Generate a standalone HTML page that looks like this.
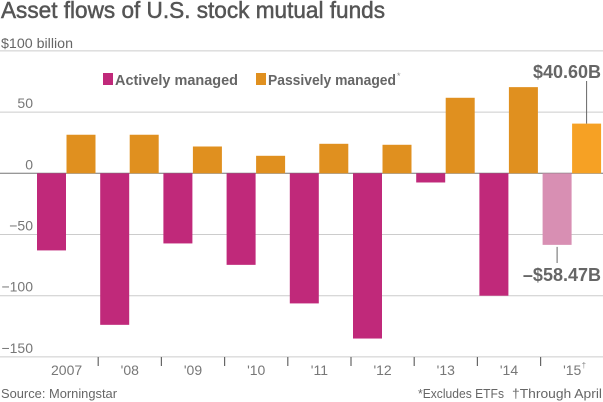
<!DOCTYPE html>
<html><head><meta charset="utf-8"><style>
html,body{margin:0;padding:0;background:#fff;}
svg{display:block;font-family:"Liberation Sans",sans-serif;}
</style></head><body>
<svg width="603" height="402" viewBox="0 0 603 402" xmlns="http://www.w3.org/2000/svg">
<text x="1" y="18" font-size="23" fill="#555" stroke="#555" stroke-width="0.5" textLength="384" lengthAdjust="spacingAndGlyphs">Asset flows of U.S. stock mutual funds</text>
<text x="1" y="48" font-size="14" fill="#666" textLength="72" lengthAdjust="spacingAndGlyphs">$100 billion</text>
<g id="grid"></g>
<g id="bars"></g>
<g>
<rect x="103" y="73" width="10" height="12" fill="#c0297a"/>
<text x="115" y="85" font-size="15" font-weight="bold" fill="#666" textLength="123" lengthAdjust="spacingAndGlyphs">Actively managed</text>
<rect x="256" y="73" width="10" height="12" fill="#e0901f"/>
<text x="268" y="85" font-size="15" font-weight="bold" fill="#666" textLength="128" lengthAdjust="spacingAndGlyphs">Passively managed</text>
<text x="397" y="79" font-size="9" fill="#888">*</text>
</g>
<text x="1" y="398" font-size="13" fill="#666" textLength="116" lengthAdjust="spacingAndGlyphs">Source: Morningstar</text>
<text x="418" y="398" font-size="13" fill="#666" textLength="86" lengthAdjust="spacingAndGlyphs">*Excludes ETFs</text>
<text x="512" y="398" font-size="13" fill="#666" textLength="90" lengthAdjust="spacingAndGlyphs">†Through April</text>
</svg>
<script>
const categories = ["2007","'08","'09","'10","'11","'12","'13","'14","'15"];
const activeValues = [-63,-123.8,-57.3,-74.8,-106.3,-135,-7.5,-100,-58.47];
const passiveValues = [31.5,31.5,21.9,14.3,24.1,23.3,61.7,70.4,40.6];
const yTicks = [100,50,0,-50,-100,-150];
const yTickLabels = ["","50","0","-50","-100","-150"];
const NS="http://www.w3.org/2000/svg";
function y(v){return 173.3 - v*1.224;}
function gx(i){return 35 + i*63.2;}
function mk(tag,attrs,parent){const e=document.createElementNS(NS,tag);for(const k in attrs)e.setAttribute(k,attrs[k]);parent.appendChild(e);return e;}
const grid=document.getElementById('grid'), bars=document.getElementById('bars');
yTicks.forEach((t,i)=>{
  const l=mk('line',{x1:0,x2:603,y1:y(t),y2:y(t),stroke:t===0?'#777':'#ccc','stroke-width':1},grid);
  
  
  if(yTickLabels[i]){
    const tx=mk('text',{x:33,y:y(t)-4,'font-size':14,fill:'#777','text-anchor':'end'},grid);
    tx.textContent=yTickLabels[i].replace('-','\u2212');
    
    
  }
});
categories.forEach((c,i)=>{
  const x0=gx(i), last=i===categories.length-1;
  const a=activeValues[i], p=passiveValues[i];
  const ra=mk('rect',{x:x0+2,width:29,y:Math.min(y(0),y(a)),height:Math.abs(y(a)-y(0)),fill:last?'#d88fb3':'#c0297a'},bars);
  
  
  const rp=mk('rect',{x:x0+31.5,width:29,y:Math.min(y(0),y(p)),height:Math.abs(y(p)-y(0)),fill:last?'#f6a124':'#e0901f'},bars);
  
  
  const tl=mk('text',{x:x0+31.6,y:375,'font-size':14,fill:'#777','text-anchor':'middle'},bars);
  tl.textContent=c;
  
  
  if(last){
    const dg=mk('text',{x:x0+41,y:368,'font-size':8,fill:'#888'},bars);
    dg.textContent='\u2020';
    
    
  }
  if(i>0){
    const tk=mk('line',{x1:x0,x2:x0,y1:357,y2:366,stroke:'#666','stroke-width':1.2},bars);
    
    
  }
  if(last){
    const cp=x0+46, ca=x0+16.5;
    const l1=mk('line',{x1:cp,x2:cp,y1:81,y2:y(p),stroke:'#666'},bars);
    
    
    const t1=mk('text',{x:601,y:78,'font-size':18,'font-weight':'bold',fill:'#666','text-anchor':'end'},bars);
    t1.textContent='$'+p.toFixed(2)+'B';
    
    
    const l2=mk('line',{x1:ca,x2:ca,y1:y(a)+2,y2:263,stroke:'#666'},bars);
    
    
    const t2=mk('text',{x:601,y:281,'font-size':18,'font-weight':'bold',fill:'#666','text-anchor':'end'},bars);
    t2.textContent='\u2013$'+Math.abs(a).toFixed(2)+'B';
    
    
  }
});
</script>
</body></html>
